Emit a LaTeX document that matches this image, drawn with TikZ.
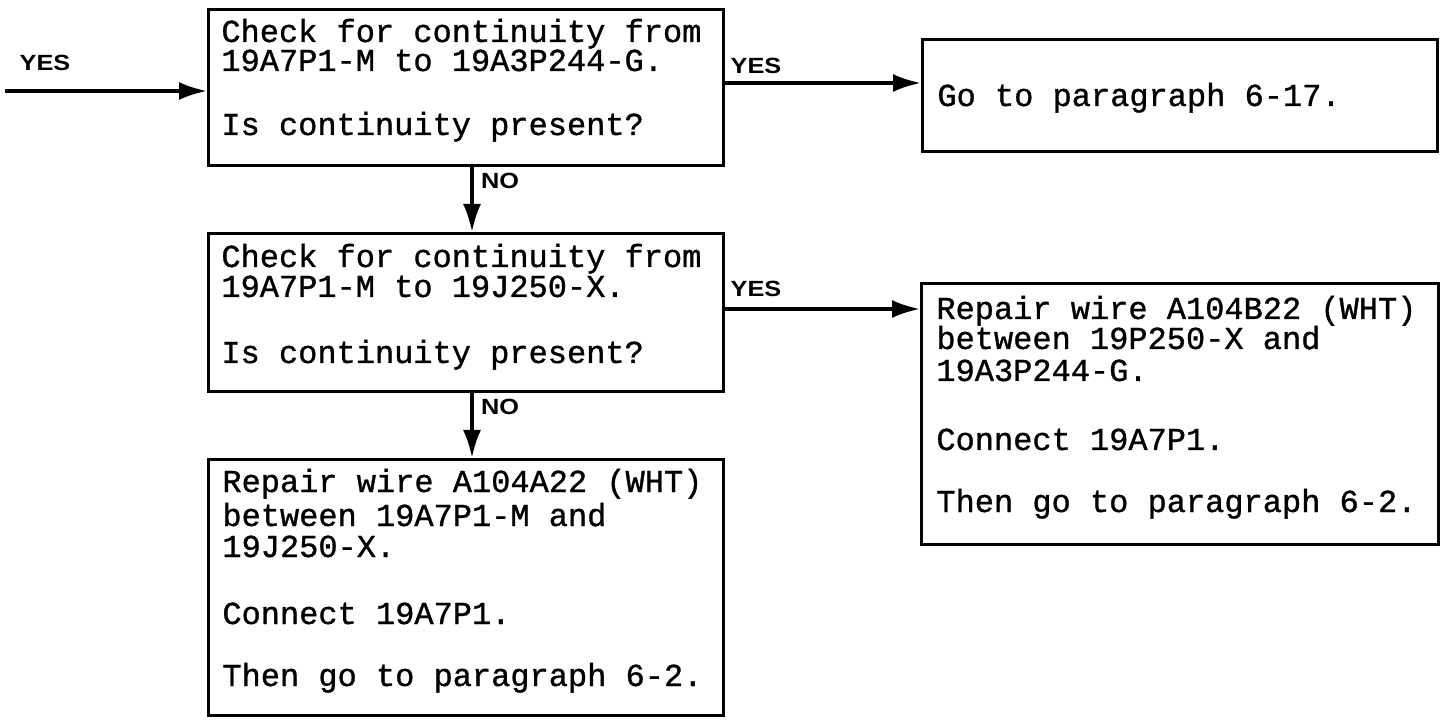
\documentclass[tikz,border=0pt]{standalone}
\usepackage{fontspec}
\setmonofont[FakeBold=1]{Liberation Mono}
\newfontfamily\lblfont[FakeStretch=1.15]{Liberation Sans}
\usetikzlibrary{arrows.meta}
\begin{document}
\begin{tikzpicture}[x=0.5pt,y=-0.5pt]
\tikzset{
 box/.style={draw, line width=1.7pt, inner sep=0, anchor=north west},
 txt/.style={font=\ttfamily\fontsize{16}{16}\selectfont, inner sep=0, anchor=base west, text height=8pt, text depth=1.5pt},
 lbl/.style={font=\lblfont\bfseries\fontsize{11}{11}\selectfont, inner sep=0},
 arr/.style={line width=1.7pt, -{Latex[length=14pt,width=9pt]}},
}
\useasboundingbox (0,0) rectangle (1440,721);
% boxes
\node[box, minimum width=257.5pt, minimum height=78pt] (b1) at (207,8) {};
\node[box, minimum width=257.5pt, minimum height=56pt] (b2) at (921,38) {};
\node[box, minimum width=257.5pt, minimum height=79pt] (b3) at (207,232) {};
\node[box, minimum width=258.5pt, minimum height=130.5pt] (b4) at (920,282) {};
\node[box, minimum width=257.5pt, minimum height=128pt] (b5) at (207,458) {};
% texts
\node[txt] (t11) at (221,42) {Check for continuity from};
\node[txt] (t12) at (221,71) {19A7P1-M to 19A3P244-G.};
\node[txt] (t13) at (221,135) {Is continuity present?};
\node[txt] (t21) at (937,106) {Go to paragraph 6-17.};
\node[txt] (t31) at (221,267) {Check for continuity from};
\node[txt] (t32) at (221,297) {19A7P1-M to 19J250-X.};
\node[txt] (t33) at (221,363) {Is continuity present?};
\node[txt] (t41) at (936,319) {Repair wire A104B22 (WHT)};
\node[txt] (t42) at (936,349) {between 19P250-X and};
\node[txt] (t43) at (936,381) {19A3P244-G.};
\node[txt] (t44) at (936,450) {Connect 19A7P1.};
\node[txt] (t45) at (936,512) {Then go to paragraph 6-2.};
\node[txt] (t51) at (222,492) {Repair wire A104A22 (WHT)};
\node[txt] (t52) at (222,526) {between 19A7P1-M and};
\node[txt] (t53) at (222,557) {19J250-X.};
\node[txt] (t54) at (222,624) {Connect 19A7P1.};
\node[txt] (t55) at (222,686) {Then go to paragraph 6-2.};
% connectors
\coordinate (in) at (5,91);
\draw[arr] (in) -- (in -| b1.west);
\coordinate (r1) at (722,83);
\draw[arr] (r1 -| b1.east) -- (r1 -| b2.west);
\coordinate (r2) at (722,309);
\draw[arr] (r2 -| b3.east) -- (r2 -| b4.west);
\coordinate (dx) at (472,0);
\draw[arr] (dx |- b1.south) -- (dx |- b3.north);
\draw[arr] (dx |- b3.south) -- (dx |- b5.north);
% labels
\node[lbl] (yes0) at (45,63) {YES};
\node[lbl] (yes1) at (756,66) {YES};
\node[lbl] (no1) at (500,181) {NO};
\node[lbl] (yes2) at (756,289) {YES};
\node[lbl] (no2) at (500,407) {NO};
\end{tikzpicture}
\end{document}
